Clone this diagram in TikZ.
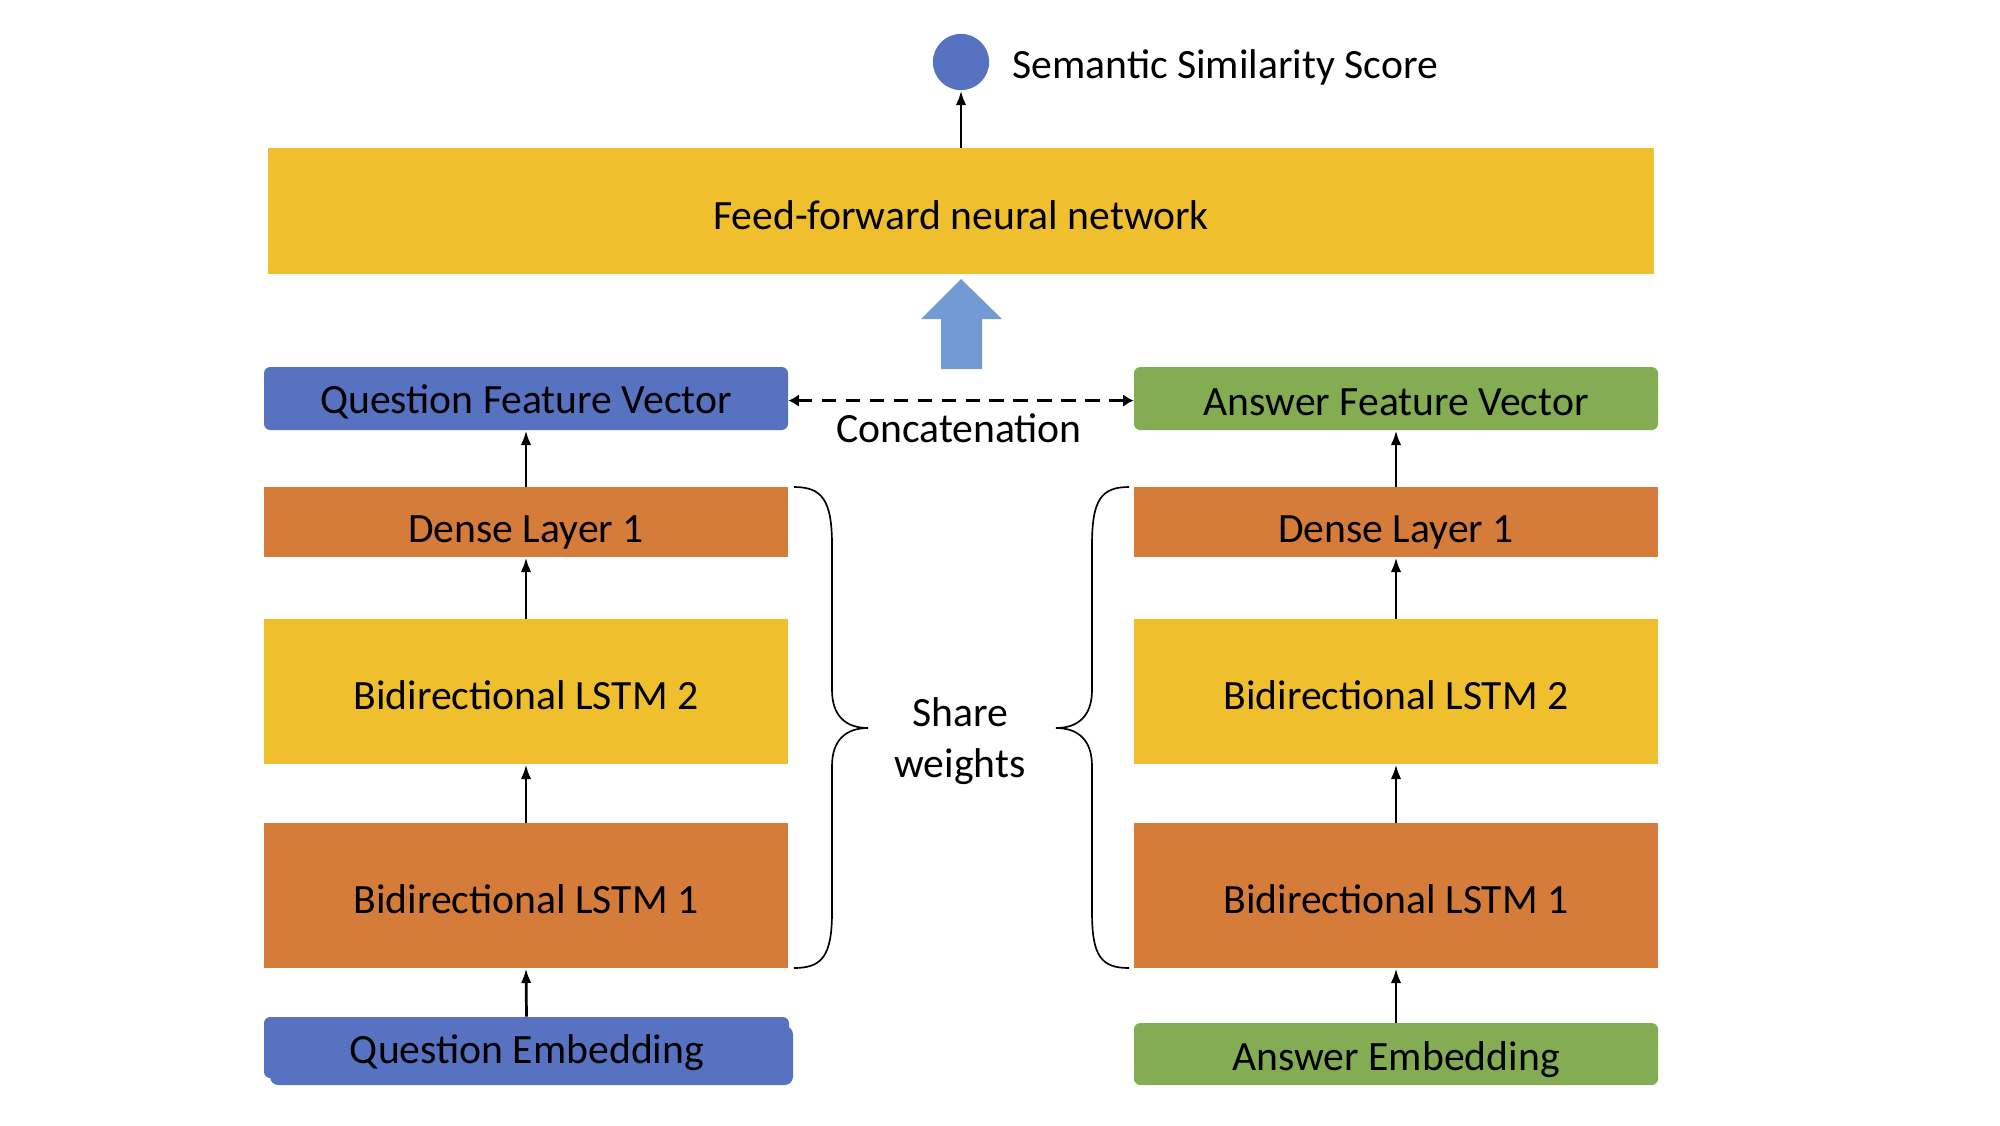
\documentclass[tikz,border=0pt]{standalone}
\usepackage{fontspec}
\setmainfont{Carlito}
\usetikzlibrary{fit,arrows.meta}
\definecolor{cblue}{HTML}{5672C1}
\definecolor{cgreen}{HTML}{84AC52}
\definecolor{corange}{HTML}{D57C3A}
\definecolor{cyellow}{HTML}{EFBF2E}
\definecolor{clight}{HTML}{729BD4}
\begin{document}
\begin{tikzpicture}[x=0.48pt,y=-0.48pt,
  lbl/.style={font=\fontsize{20}{24}\selectfont, text=black, inner sep=0pt, yshift=-1.8pt},
  blk/.style={inner sep=0pt, draw=none},
  rblk/.style={blk, rounded corners=3pt},
  arr/.style={line width=1.3pt, -{Latex[length=7pt,width=5pt]}},
  brace/.style={line width=0.8pt}]
\useasboundingbox (0,0) rectangle (2000,1125);
% score
\node[circle, fill=cblue, minimum size=27pt, inner sep=0pt] (score) at (961,62) {};
\node[lbl, anchor=west] (scoretxt) at (1012,64) {Semantic Similarity Score};
% FFN
\node[blk, fill=cyellow, fit={(268,148)(1654,274)}] (ffn) {};
\node[lbl] (ffntxt) at (ffn.center) {Feed-forward neural network};
\draw[arr] (ffn.north -| score) -- (score.south);
% big arrow
\fill[clight] (941,369) -- (941,319) -- (921,319) -- (961,279) -- (1002,319) -- (982,319) -- (982,369) -- cycle;
% feature vectors
\node[rblk, fill=cblue, fit={(264,367)(788,430)}] (qfv) {};
\node[lbl] (qfvtxt) at (qfv.center) {Question Feature Vector};
\node[rblk, fill=cgreen, fit={(1134,367)(1658,430)}] (afv) {};
\node[lbl] (afvtxt) at (afv.center) {Answer Feature Vector};
\draw[line width=1.5pt, dash pattern=on 7pt off 4.5pt, {Latex[length=5pt,width=6pt]}-{Latex[length=5pt,width=6pt]}] ([yshift=-1pt]qfv.east) -- ([yshift=-1pt]afv.west);
\node[lbl] (concat) at (959,424) {Concatenation};
% left tower
\node[blk, fill=corange, fit={(264,487)(788,557)}] (qd) {};
\node[lbl, yshift=-3pt] at (qd.center) {Dense Layer 1};
\node[blk, fill=cyellow, fit={(264,619)(788,764)}] (ql2) {};
\node[lbl] at (ql2.center) {Bidirectional LSTM 2};
\node[blk, fill=corange, fit={(264,823)(788,968)}] (ql1) {};
\node[lbl] at (ql1.center) {Bidirectional LSTM 1};
\fill[cblue, rounded corners=4pt] (270,1026) rectangle (793,1085);
\node[rblk, fill=cblue, fit={(264,1017)(789,1078)}] (qemb) {};
\node[lbl] (qembtxt) at (527,1049) {Question Embedding};
% right tower
\node[blk, fill=corange, fit={(1134,487)(1658,557)}] (ad) {};
\node[lbl, yshift=-3pt] at (ad.center) {Dense Layer 1};
\node[blk, fill=cyellow, fit={(1134,619)(1658,764)}] (al2) {};
\node[lbl] at (al2.center) {Bidirectional LSTM 2};
\node[blk, fill=corange, fit={(1134,823)(1658,968)}] (al1) {};
\node[lbl] at (al1.center) {Bidirectional LSTM 1};
\node[rblk, fill=cgreen, fit={(1134,1023)(1658,1085)}] (aemb) {};
\node[lbl] at (1396,1056) {Answer Embedding};
% arrows
\draw[arr] (qemb.north) -- (ql1.south);
\draw[arr] (ql1.north) -- (ql2.south);
\draw[arr] (ql2.north) -- (qd.south);
\draw[arr] (qd.north) -- (qfv.south);
\draw[arr] (aemb.north) -- (al1.south);
\draw[arr] (al1.north) -- (al2.south);
\draw[arr] (al2.north) -- (ad.south);
\draw[arr] (ad.north) -- (afv.south);
% braces
\draw[brace] (794,487) .. controls (822,487) and (832,500) .. (832,545) -- (832,690) .. controls (832,716) and (846,728) .. (868,728) .. controls (846,728) and (832,740) .. (832,766) -- (832,912) .. controls (832,956) and (822,968) .. (794,968);
\draw[brace] (1129,487) .. controls (1101,487) and (1092,500) .. (1092,545) -- (1092,690) .. controls (1092,716) and (1078,728) .. (1056,728) .. controls (1078,728) and (1092,740) .. (1092,766) -- (1092,912) .. controls (1092,956) and (1101,968) .. (1129,968);
\node[lbl, align=center] (share) at (960,737) {Share\\[0.5pt]weights};
\end{tikzpicture}
\end{document}
